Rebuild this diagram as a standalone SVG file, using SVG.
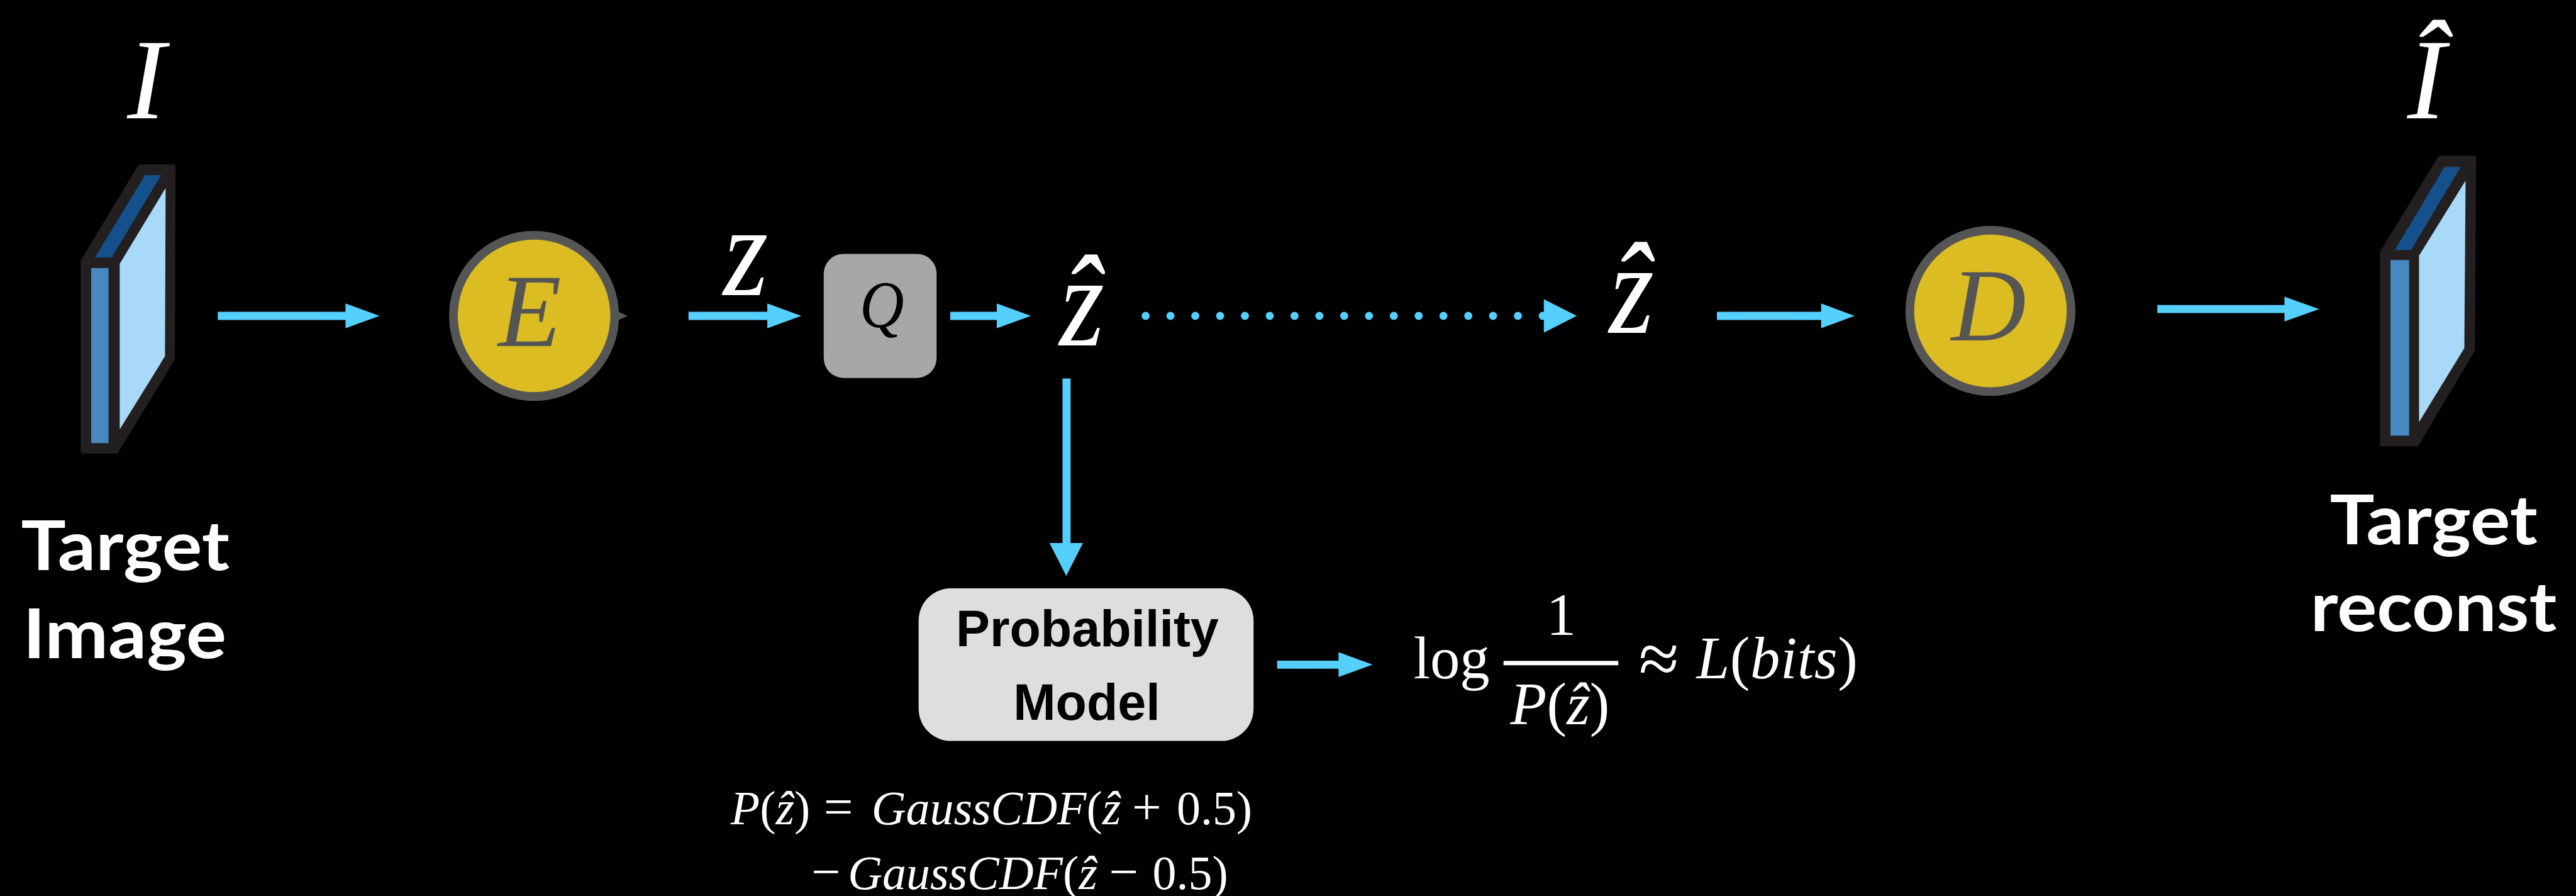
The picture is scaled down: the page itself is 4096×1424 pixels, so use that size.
<svg xmlns="http://www.w3.org/2000/svg" width="4096" height="1424" viewBox="0 0 4096 1424">
<style>
.m{font-family:"Liberation Serif","Times New Roman",serif;fill:#fff}
.i{font-style:italic}
.lab{font-family:Lato,"Noto Sans",sans-serif;font-weight:700;font-size:110px;fill:#fff}
.pm{font-family:"Liberation Sans",Arial,sans-serif;font-weight:700;font-size:82px;fill:#000;text-anchor:middle}
.s{font-size:96px}
.f{font-size:77px}
.big{font-size:167px;fill:#555}
.zb{font-size:186px}
.out{fill:#231F20;stroke:#231F20;stroke-width:8;stroke-linejoin:round}
.front{fill:#4788C1}.top{fill:#14508C}.lit{fill:#A8DAF7}
.circ{fill:#DBBC23;stroke:#555;stroke-width:14}
.arr{fill:#55CFFC}
</style>
<rect width="4096" height="1424" fill="#000"/>
<g transform="scale(0.98627)">
<g id="connectors">
<path class="arr" d="M351 502.500H557V489L612 509L557 529V515.500H351Z"/>
<path class="arr" d="M1110 502.500H1237V489L1292 509L1237 529V515.500H1110Z"/>
<path class="arr" d="M1532 502.500H1607V489L1662 509L1607 529V515.500H1532Z"/>
<path class="arr" d="M2768 502.500H2936V489L2990 509L2936 529V515.500H2768Z"/>
<path class="arr" d="M3478 491.500H3683V478L3739 498L3683 518V504.500H3478Z"/>
<path class="arr" d="M2059 1064.500H2158V1051L2213 1071L2158 1091V1077.500H2059Z"/>
<path class="arr" d="M1713 610H1726V875H1746L1719 928L1692 875H1713Z"/>
<line x1="1847" y1="509" x2="2490" y2="509" stroke="#55CFFC" stroke-width="13" stroke-linecap="round" stroke-dasharray="0.01 40"/>
<path class="arr" d="M2489 482L2542 509L2489 536Z"/>
</g>
<g id="image-in">
<path class="out" d="M134 421L226 269H279L278 578L187 727H134Z"/>
<path class="top" d="M153 415L234 282H260L180 415Z"/>
<rect class="front" x="147" y="432" width="28" height="282"/>
<path class="lit" d="M193 425L267 303L266 574L193 692Z"/>
</g>
<g id="label-I"><text class="m i" x="205" y="191" font-size="185">I</text></g>
<g id="label-target-image">
<text class="lab" x="34" y="919" textLength="336" lengthAdjust="spacingAndGlyphs">Target</text>
<text class="lab" x="37" y="1061" textLength="328" lengthAdjust="spacingAndGlyphs">Image</text>
</g>
<g id="encoder">
<path d="M996 502L1012 509L996 516Z" fill="#555"/>
<circle class="circ" cx="861" cy="509" r="130"/>
<text class="m i big" x="803" y="558">E</text>
</g>
<g id="label-z"><text class="m i zb" transform="translate(1166 476) scale(1 1.13)">z</text></g>
<g id="quantizer">
<rect x="1328" y="409" width="182" height="200" rx="32" ry="32" fill="#A5A8A6"/>
<text class="m i" transform="translate(1386 527) scale(1 1.08)" font-size="99" style="fill:#000">Q</text>
</g>
<g id="label-zhat-1"><text class="m i zb" transform="translate(1708 557) scale(1 1.13)">ẑ</text></g>
<g id="label-zhat-2"><text class="m i zb" transform="translate(2594 536) scale(1 1.13)">ẑ</text></g>
<g id="decoder">
<circle class="circ" cx="3209" cy="501" r="130"/>
<text class="m i big" x="3146" y="549">D</text>
</g>
<g id="image-out">
<path class="out" d="M3841 407L3934 255H3988L3986 564L3896 715H3841Z"/>
<path class="top" d="M3861 403L3941 269H3967L3887 403Z"/>
<rect class="front" x="3854" y="419" width="30" height="283"/>
<path class="lit" d="M3900 412L3975 291L3973 561L3900 680Z"/>
</g>
<g id="label-I-hat"><text class="m i" x="3881" y="191" font-size="185">Î</text></g>
<g id="label-target-reconst">
<text class="lab" x="3756" y="877" textLength="335" lengthAdjust="spacingAndGlyphs">Target</text>
<text class="lab" x="3725" y="1017" textLength="397" lengthAdjust="spacingAndGlyphs">reconst</text>
</g>
<g id="probability-model">
<rect x="1481" y="948" width="540" height="246" rx="52" ry="52" fill="#DDDEE0"/>
<text class="pm" x="1753" y="1041">Probability</text>
<text class="pm" x="1752" y="1160">Model</text>
</g>
<g id="bits-formula">
<text class="m s" x="2279" y="1093">log</text>
<text class="m s" x="2517" y="1023" text-anchor="middle">1</text>
<rect x="2424" y="1065" width="185" height="7" fill="#fff"/>
<text class="m s" x="2435" y="1167"><tspan class="i">P</tspan>(<tspan class="i">ẑ</tspan>)</text>
<text class="m" x="2642" y="1101" font-size="118">≈</text>
<text class="m s" x="2735" y="1093" textLength="260"><tspan class="i">L</tspan>(<tspan class="i">bits</tspan>)</text>
</g>
<g id="gauss-formula">
<text class="m f" x="1178" y="1328"><tspan class="i">P</tspan>(<tspan class="i">ẑ</tspan>)</text>
<text class="m f" x="1328" y="1328" font-size="84" style="font-size:84px">=</text>
<text class="m f" x="1405" y="1328"><tspan class="i">GaussCDF</tspan>(<tspan class="i">ẑ</tspan></text>
<text class="m f" x="1825" y="1328" style="font-size:84px">+</text>
<text class="m f" x="1897" y="1328">0.5)</text>
<text class="m f" x="1308" y="1433" style="font-size:84px">−</text>
<text class="m f" x="1367" y="1433"><tspan class="i">GaussCDF</tspan>(<tspan class="i">ẑ</tspan></text>
<text class="m f" x="1788" y="1433" style="font-size:84px">−</text>
<text class="m f" x="1858" y="1433">0.5)</text>
</g>
</g>
</svg>
